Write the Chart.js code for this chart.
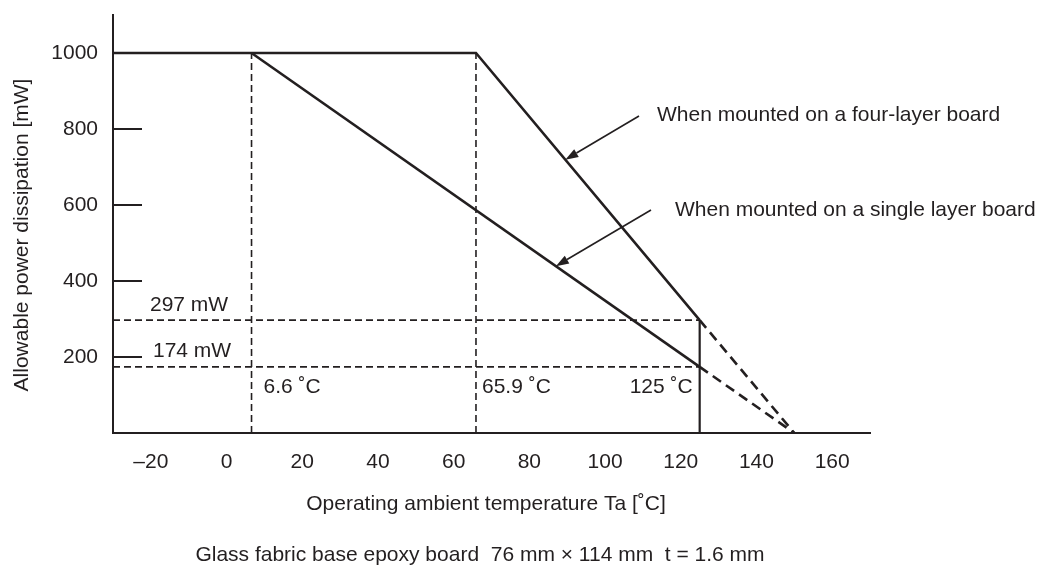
<!DOCTYPE html>
<html>
<head>
<meta charset="utf-8">
<title>Allowable power dissipation vs. ambient temperature</title>
<script src="https://cdn.jsdelivr.net/npm/chart.js@4/dist/chart.umd.min.js"></script>
<style>
  html, body { margin: 0; padding: 0; background: #ffffff; }
  canvas { display: block; }
</style>
</head>
<body>
<canvas id="derating" width="1053" height="565"></canvas>
<script>
// Derating curves: allowable power dissipation [mW] vs. ambient temperature [°C]
const xTickValues = [-20, 0, 20, 40, 60, 80, 100, 120, 140, 160];
const yTickValues = [200, 400, 600, 800, 1000];

const fourLayerTemp = [-30, 65.9, 125];
const fourLayerPower = [1000, 1000, 297];
const singleLayerTemp = [6.6, 125];
const singleLayerPower = [1000, 174];

// Extrapolation beyond the rated maximum temperature down to zero power
const extrapTemp = [125, 150];
const fourLayerExtrapPower = [297, 0];
const singleLayerExtrapPower = [174, 0];

// Reference guide values
const kneeTemps = [6.6, 65.9];
const maxTemp = 125;
const ratedPowers = [297, 174];
const ratedPowerLabels = ['297 mW', '174 mW'];
const tempLabels = ['6.6 ˚C', '65.9 ˚C', '125 ˚C'];

const INK = '#231f20';
const FONT = '"Liberation Sans", Arial, Helvetica, sans-serif';
const FONT_SIZE = 21;

const pts = (xs, ys) => xs.map((x, i) => ({ x: x, y: ys[i] }));

function lineSet(data, width, dash) {
  return {
    data: data,
    showLine: true,
    borderColor: INK,
    backgroundColor: INK,
    borderWidth: width,
    borderDash: dash || [],
    pointRadius: 0,
    fill: false,
    tension: 0,
    borderCapStyle: 'butt',
    borderJoinStyle: 'miter'
  };
}

const datasets = [
  lineSet(pts(fourLayerTemp, fourLayerPower), 2.6),
  lineSet(pts(singleLayerTemp, singleLayerPower), 2.6),
  lineSet(pts(extrapTemp, fourLayerExtrapPower), 2.6, [10, 6]),
  lineSet(pts(extrapTemp, singleLayerExtrapPower), 2.6, [10, 6]),
  // horizontal guides at the rated powers
  lineSet(pts([-30, maxTemp], [ratedPowers[0], ratedPowers[0]]), 1.6, [7, 4]),
  lineSet(pts([-30, maxTemp], [ratedPowers[1], ratedPowers[1]]), 1.6, [7, 4]),
  // vertical guides at the knee temperatures
  lineSet(pts([kneeTemps[0], kneeTemps[0]], [0, 1000]), 1.6, [7, 4]),
  lineSet(pts([kneeTemps[1], kneeTemps[1]], [0, 1000]), 1.6, [7, 4]),
  // solid marker at the maximum rated temperature
  lineSet(pts([maxTemp, maxTemp], [0, ratedPowers[0]]), 2.2)
];

function arrow(ctx, x0, y0, x1, y1) {
  const ang = Math.atan2(y1 - y0, x1 - x0);
  const len = 13, half = 4.5;
  const bx = x1 - len * Math.cos(ang), by = y1 - len * Math.sin(ang);
  ctx.beginPath();
  ctx.moveTo(x0, y0);
  ctx.lineTo(bx, by);
  ctx.lineWidth = 1.6;
  ctx.strokeStyle = INK;
  ctx.stroke();
  ctx.beginPath();
  ctx.moveTo(x1, y1);
  ctx.lineTo(bx + half * Math.sin(ang), by - half * Math.cos(ang));
  ctx.lineTo(bx - half * Math.sin(ang), by + half * Math.cos(ang));
  ctx.closePath();
  ctx.fillStyle = INK;
  ctx.fill();
}

const annotations = {
  id: 'annotations',
  afterDraw(chart) {
    const ctx = chart.ctx;
    const xs = chart.scales.x, ys = chart.scales.y;
    const area = chart.chartArea;
    ctx.save();

    // inward tick marks on the power axis
    ctx.strokeStyle = INK;
    ctx.lineWidth = 2;
    yTickValues.forEach(v => {
      const y = Math.round(ys.getPixelForValue(v));
      ctx.beginPath();
      ctx.moveTo(area.left, y);
      ctx.lineTo(area.left + 29, y);
      ctx.stroke();
    });

    ctx.fillStyle = INK;
    ctx.font = FONT_SIZE + 'px ' + FONT;
    ctx.textBaseline = 'middle';

    // rated power labels above their guides
    ctx.textAlign = 'left';
    ctx.fillText(ratedPowerLabels[0], area.left + 37, ys.getPixelForValue(ratedPowers[0]) - 15);
    ctx.fillText(ratedPowerLabels[1], area.left + 40, ys.getPixelForValue(ratedPowers[1]) - 16);

    // temperature labels below the 174 mW guide
    const tY = ys.getPixelForValue(ratedPowers[1]) + 20;
    ctx.fillText(tempLabels[0], xs.getPixelForValue(kneeTemps[0]) + 12, tY);
    ctx.fillText(tempLabels[1], xs.getPixelForValue(kneeTemps[1]) + 6, tY);
    ctx.textAlign = 'right';
    ctx.fillText(tempLabels[2], xs.getPixelForValue(maxTemp) - 7, tY);

    // curve callouts, arrow tips placed on the curves
    const fourTipT = 89.5;
    const fourTipP = 1000 - (fourTipT - 65.9) * (1000 - 297) / (125 - 65.9);
    const singleTipT = 87;
    const singleTipP = 1000 - (singleTipT - 6.6) * (1000 - 174) / (125 - 6.6);
    arrow(ctx, 639, 116, xs.getPixelForValue(fourTipT), ys.getPixelForValue(fourTipP));
    arrow(ctx, 651, 210, xs.getPixelForValue(singleTipT), ys.getPixelForValue(singleTipP));
    ctx.textAlign = 'left';
    ctx.fillText('When mounted on a four-layer board', 657, 115);
    ctx.fillText('When mounted on a single layer board', 675, 210);

    // axis titles and board note
    ctx.textAlign = 'center';
    ctx.fillText('Operating ambient temperature Ta [˚C]', 486, 504);
    ctx.fillText('Glass fabric base epoxy board  76 mm \u00d7 114 mm  t = 1.6 mm', 480, 555);
    ctx.save();
    ctx.translate(22, 235);
    ctx.rotate(-Math.PI / 2);
    ctx.fillText('Allowable power dissipation [mW]', 0, 0);
    ctx.restore();

    ctx.restore();
  }
};

new Chart(document.getElementById('derating'), {
  type: 'scatter',
  data: { datasets: datasets },
  options: {
    responsive: false,
    animation: false,
    events: [],
    layout: { padding: { left: 0, top: 15, right: 183, bottom: 0 } },
    plugins: { legend: { display: false }, tooltip: { enabled: false } },
    scales: {
      x: {
        type: 'linear',
        min: -30,
        max: 170,
        afterFit(scale) {
          scale.height = 132;
          scale.paddingLeft = 0;
          scale.paddingRight = 0;
        },
        afterBuildTicks(scale) { scale.ticks = xTickValues.map(v => ({ value: v })); },
        grid: { display: false, drawTicks: false },
        border: { display: true, width: 2, color: INK },
        ticks: {
          autoSkip: false,
          maxRotation: 0,
          padding: 17,
          color: INK,
          font: { family: FONT, size: FONT_SIZE },
          callback: v => (v < 0 ? '\u2013' + Math.abs(v) : String(v))
        }
      },
      y: {
        type: 'linear',
        min: 0,
        max: 1100,
        afterFit(scale) {
          scale.width = 113;
          scale.paddingTop = 0;
          scale.paddingBottom = 0;
        },
        afterBuildTicks(scale) { scale.ticks = yTickValues.map(v => ({ value: v })); },
        grid: { display: false, drawTicks: false },
        border: { display: true, width: 2, color: INK },
        ticks: {
          padding: 15,
          color: INK,
          font: { family: FONT, size: FONT_SIZE },
          callback: v => String(v)
        }
      }
    }
  },
  plugins: [annotations]
});
</script>
</body>
</html>
